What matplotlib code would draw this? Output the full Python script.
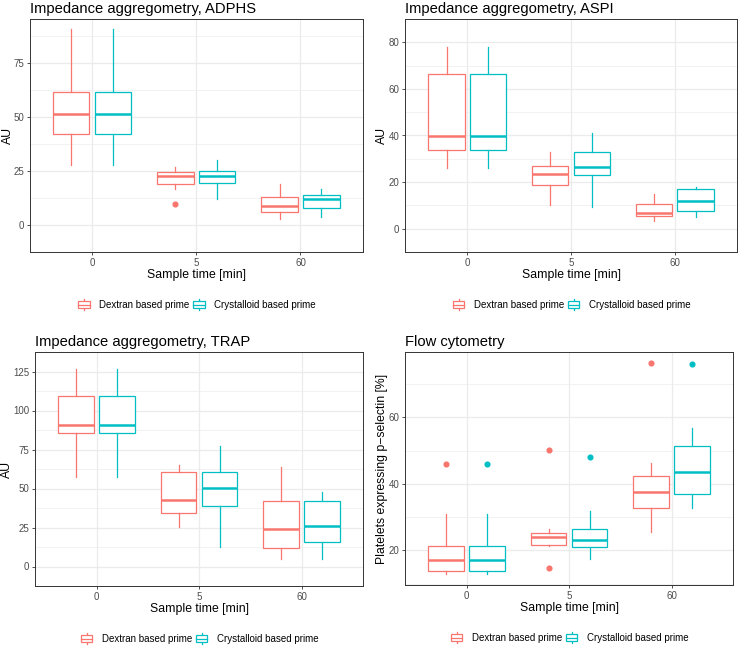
import matplotlib
matplotlib.use("Agg")
import matplotlib.pyplot as plt
from matplotlib.legend_handler import HandlerBase
from matplotlib.patches import Rectangle
from matplotlib.lines import Line2D

plt.rcParams['font.family'] = ['Liberation Sans', 'DejaVu Sans']

times = ["0", "5", "60"]
groups = ["Dextran based prime", "Crystalloid based prime"]
colors = ["#F8766D", "#00BFC4"]

# stats per time point: [whisker low, Q1, median, Q3, whisker high]
adphs_dex = [[27.9, 42.3, 51.6, 61.8, 91.0], [16.9, 19.1, 22.9, 24.5, 26.7], [3.0, 6.2, 9.0, 13.0, 18.8]]
adphs_dex_out = [[], [9.8], []]
adphs_cry = [[27.9, 42.3, 51.6, 61.8, 91.0], [11.9, 19.3, 22.9, 25.1, 30.0], [3.9, 7.9, 11.9, 14.1, 16.6]]
adphs_cry_out = [[], [], []]

aspi_dex = [[26.1, 33.9, 39.6, 66.5, 78.0], [10.1, 18.6, 23.6, 27.0, 33.0], [3.3, 5.3, 6.6, 10.4, 14.8]]
aspi_dex_out = [[], [], []]
aspi_cry = [[26.1, 33.9, 39.6, 66.5, 78.0], [9.2, 22.9, 26.6, 33.0, 40.9], [5.2, 7.8, 12.0, 17.0, 18.0]]
aspi_cry_out = [[], [], []]

trap_dex = [[57.3, 85.3, 90.8, 109.6, 126.3], [25.1, 34.5, 42.6, 60.3, 65.0], [5.1, 11.8, 24.2, 41.9, 64.1]]
trap_dex_out = [[], [], []]
trap_cry = [[57.3, 85.3, 90.8, 109.6, 126.3], [12.2, 38.5, 50.6, 60.3, 77.0], [5.1, 15.6, 26.1, 41.9, 47.9]]
trap_cry_out = [[], [], []]

flow_dex = [[12.8, 13.9, 17.2, 21.4, 31.0], [21.4, 21.6, 24.2, 25.2, 26.4], [25.6, 32.7, 37.7, 42.4, 46.4]]
flow_dex_out = [[46.0], [50.2, 14.6], [76.5]]
flow_cry = [[12.8, 13.9, 17.2, 21.4, 31.0], [17.5, 20.9, 23.2, 26.6, 31.9], [32.9, 37.0, 43.7, 51.5, 56.7]]
flow_cry_out = [[46.0], [48.2], [76.2]]

panels = [
    dict(title="Impedance aggregometry, ADPHS", ylabel="AU", dex=adphs_dex, dex_out=adphs_dex_out,
         cry=adphs_cry, cry_out=adphs_cry_out, yticks=[0, 25, 50, 75], px=(29.5, 363, 19, 252), ylx=14),
    dict(title="Impedance aggregometry, ASPI", ylabel="AU", dex=aspi_dex, dex_out=aspi_dex_out,
         cry=aspi_cry, cry_out=aspi_cry_out, yticks=[0, 20, 40, 60, 80], px=(405, 737, 19, 252), ylx=388),
    dict(title="Impedance aggregometry, TRAP", ylabel="AU", dex=trap_dex, dex_out=trap_dex_out,
         cry=trap_cry, cry_out=trap_cry_out, yticks=[0, 25, 50, 75, 100, 125], px=(35, 363, 352, 586), ylx=13),
    dict(title="Flow cytometry", ylabel="Platelets expressing p\u2212selectin [%]", dex=flow_dex, dex_out=flow_dex_out,
         cry=flow_cry, cry_out=flow_cry_out, yticks=[20, 40, 60], px=(405, 733, 352, 585), ylx=388),
]

W, H = 739, 648
fig = plt.figure(figsize=(W / 100, H / 100), dpi=100)


class BoxHandler(HandlerBase):
    def create_artists(self, legend, orig_handle, xdescent, ydescent, width, height, fontsize, trans):
        c = orig_handle.get_color()
        x0 = -xdescent
        y0 = -ydescent
        size = width
        cy = y0 + height / 2
        cx = x0 + width / 2
        bl, br = x0 + 0.1 * size, x0 + 0.9 * size
        bb, bt = cy - 0.25 * size, cy + 0.25 * size
        rect = Rectangle((bl, bb), br - bl, bt - bb, facecolor='white', edgecolor=c, lw=0.9, transform=trans)
        med = Line2D([bl, br], [cy, cy], color=c, lw=0.9, transform=trans)
        w1 = Line2D([cx, cx], [bt, cy + 0.4 * size], color=c, lw=0.9, transform=trans)
        w2 = Line2D([cx, cx], [bb, cy - 0.4 * size], color=c, lw=0.9, transform=trans)
        return [w1, w2, rect, med]


for p in panels:
    l, r, t, b = p['px']
    ax = fig.add_axes([l / W, 1 - b / H, (r - l) / W, (b - t) / H])
    allvals = []
    for stats, outs in ((p['dex'], p['dex_out']), (p['cry'], p['cry_out'])):
        for s, o in zip(stats, outs):
            allvals += s + o
    lo, hi = min(allvals), max(allvals)
    pad = (hi - lo) * 0.05
    ax.set_ylim(lo - pad, hi + pad)
    ax.set_xlim(0.4, 3.6)

    handles = []
    for gi, (key, okey) in enumerate((('dex', 'dex_out'), ('cry', 'cry_out'))):
        col = colors[gi]
        stats = []
        for s, o in zip(p[key], p[okey]):
            stats.append(dict(whislo=s[0], q1=s[1], med=s[2], q3=s[3], whishi=s[4], fliers=o))
        pos = [i + 1 + (-0.2 if gi == 0 else 0.2) for i in range(3)]
        ax.bxp(stats, positions=pos, widths=0.35, showcaps=False, patch_artist=True,
               boxprops=dict(facecolor='white', edgecolor=col, lw=0.9),
               whiskerprops=dict(color=col, lw=0.9),
               medianprops=dict(color=col, lw=1.8),
               flierprops=dict(marker='o', markerfacecolor=col, markeredgecolor=col, markersize=3.4),
               zorder=3)
        handles.append(Line2D([], [], color=col, label=groups[gi]))

    ax.set_xticks([1, 2, 3])
    ax.set_xticklabels(times)
    ax.set_yticks(p['yticks'])
    ax.set_yticklabels([str(v) for v in p['yticks']])
    yt = p['yticks']
    step = yt[1] - yt[0]
    minors = [v + step / 2 for v in [yt[0] - step] + yt]
    ax.set_yticks(minors, minor=True)
    ax.tick_params(axis='y', which='minor', length=0)
    ax.grid(True, which='major', color='#EBEBEB', lw=0.9, zorder=0)
    ax.grid(True, which='minor', axis='y', color='#EBEBEB', lw=0.45, zorder=0)
    ax.set_axisbelow(True)
    for sp in ax.spines.values():
        sp.set_color('#333333')
        sp.set_linewidth(0.7)
    ax.tick_params(axis='both', which='major', colors='#333333', labelcolor='#4D4D4D',
                   labelsize=7.0, length=2.5, width=0.6, pad=1.5)
    ax.set_xlabel("Sample time [min]", fontsize=8.8, color='black', labelpad=1.2)
    ax.set_ylabel(p['ylabel'], fontsize=8.8, color='black')
    ax.yaxis.set_label_coords((p['ylx'] - l) / (r - l), 0.5)
    ax.set_title(p['title'], fontsize=10.6, loc='left', pad=4, color='black')
    leg_y = 1 - (b + 53 - t) / (b - t)
    ax.legend(handles=handles, loc='center', bbox_to_anchor=(0.5, leg_y),
              ncol=2, frameon=False, fontsize=7.0, handler_map={Line2D: BoxHandler()},
              handlelength=1.45, handleheight=1.0, handletextpad=0.8, columnspacing=0.3,
              borderaxespad=0, borderpad=0)

fig.savefig("out.png", dpi=100)
